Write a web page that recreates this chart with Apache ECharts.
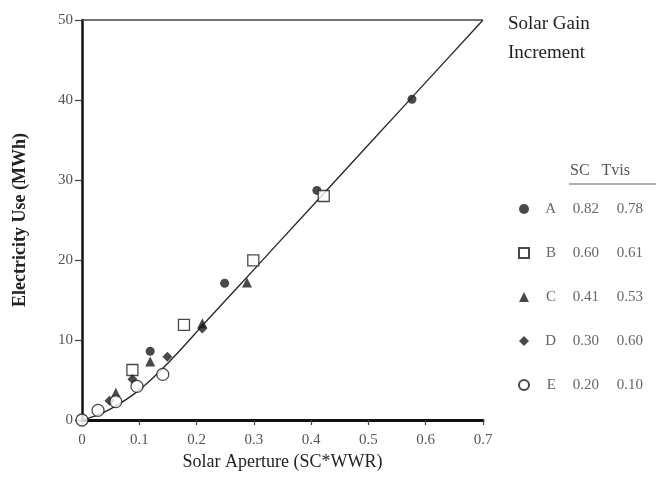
<!DOCTYPE html>
<html>
<head>
<meta charset="utf-8">
<script src="https://cdn.jsdelivr.net/npm/echarts@6/dist/echarts.min.js"></script>
<style>
  html, body { margin: 0; padding: 0; background: #fff; }
  #chart { width: 656px; height: 488px; }
</style>
</head>
<body>
<div id="chart"></div>
<script>
// ---- data ----
const categories = ['A', 'B', 'C', 'D', 'E'];
const scValues = ['0.82', '0.60', '0.41', '0.30', '0.20'];
const tvisValues = ['0.78', '0.61', '0.53', '0.60', '0.10'];

const seriesA = [[0.119, 8.6], [0.249, 17.1], [0.41, 28.7], [0.576, 40.1]];
const seriesB = [[0.088, 6.25], [0.178, 11.9], [0.299, 19.95], [0.422, 28.0]];
const seriesC = [[0.059, 3.4], [0.119, 7.3], [0.21, 12.1], [0.288, 17.2]];
const seriesD = [[0.048, 2.4], [0.088, 5.1], [0.149, 7.9], [0.21, 11.45]];
const seriesE = [[0, 0], [0.028, 1.2], [0.059, 2.3], [0.096, 4.2], [0.141, 5.7]];

const fitX = [0, 0.03, 0.06, 0.09, 0.12, 0.15, 0.18, 0.21, 0.25, 0.3, 0.4, 0.5, 0.6, 0.7];
const fitY = [0, 0.7, 1.8, 3.2, 5.0, 7.1, 9.4, 11.8, 14.9, 18.8, 26.6, 34.4, 42.2, 50.0];

const topLineX = [0, 0.7];
const topLineY = [50, 50];

const xTitle = 'Solar Aperture (SC*WWR)';
const yTitle = 'Electricity Use (MWh)';
const noteLines = ['Solar Gain', 'Increment'];
const legendHeader = 'SC   Tvis';

// ---- chart ----
const SERIF = '"Liberation Serif", "DejaVu Serif", serif';
const INK = '#1c1c1c';
const chart = echarts.init(document.getElementById('chart'), null, { renderer: 'canvas' });

const zip = (xs, ys) => xs.map((x, i) => [x, ys[i]]);
const filled = { color: INK };
const hollow = { color: '#ffffff', borderColor: INK, borderWidth: 1.3 };

const scatterDefs = [
  { data: seriesA, symbol: 'circle', size: 9, style: filled },
  { data: seriesB, symbol: 'rect', size: 11, style: hollow },
  { data: seriesC, symbol: 'triangle', size: 10, style: filled },
  { data: seriesD, symbol: 'diamond', size: 10, style: filled },
  { data: seriesE, symbol: 'circle', size: 12, style: hollow }
];

const series = [
  {
    type: 'line', name: 'fit', data: zip(fitX, fitY), smooth: 0.4,
    showSymbol: false, clip: false, silent: true,
    lineStyle: { color: '#2a2a2a', width: 1.4 }, z: 2
  },
  {
    type: 'line', name: 'top', data: zip(topLineX, topLineY),
    showSymbol: false, clip: false, silent: true,
    lineStyle: { color: '#444', width: 1.6 }, z: 2
  }
];
scatterDefs.forEach((d, i) => {
  series.push({
    type: 'scatter', name: categories[i], data: d.data,
    symbol: d.symbol, symbolSize: d.size, itemStyle: d.style,
    clip: false, z: 5
  });
});

const option = {
  animation: false,
  backgroundColor: '#fff',
  grid: { left: 82, right: 173, top: 20, bottom: 68 },
  xAxis: {
    type: 'value', min: 0, max: 0.7, interval: 0.1,
    name: xTitle, nameLocation: 'middle', nameGap: 21,
    nameTextStyle: { fontFamily: SERIF, fontSize: 18, color: '#222' },
    axisLine: { show: true, onZero: false, lineStyle: { color: '#111', width: 3 } },
    axisTick: { show: true, inside: false, length: 5, lineStyle: { color: '#444', width: 1.2 } },
    axisLabel: {
      fontFamily: SERIF, fontSize: 15, color: '#555', margin: 13,
      formatter: v => (v === 0 ? '0' : v.toFixed(1))
    },
    splitLine: { show: false }
  },
  yAxis: {
    type: 'value', min: 0, max: 50, interval: 10,
    name: yTitle, nameLocation: 'middle', nameGap: 53, nameRotate: 90,
    nameTextStyle: { fontFamily: SERIF, fontSize: 18, fontWeight: 'bold', color: '#222' },
    axisLine: { show: true, onZero: false, lineStyle: { color: '#111', width: 2.5 } },
    axisTick: { show: true, inside: false, length: 7, lineStyle: { color: '#444', width: 1.2 } },
    axisLabel: { fontFamily: SERIF, fontSize: 15, color: '#555', margin: 9 },
    splitLine: { show: false }
  },
  legend: {
    data: categories,
    orient: 'vertical', left: 513, top: 195,
    itemWidth: 10, itemHeight: 10, itemGap: 26,
    selectedMode: false,
    formatter: name => {
      const i = categories.indexOf(name);
      return '{n|' + name + '}{s|' + scValues[i] + '}{t|' + tvisValues[i] + '}';
    },
    textStyle: {
      fontFamily: SERIF, fontSize: 15, color: '#666', lineHeight: 18,
      rich: {
        n: { fontFamily: SERIF, fontSize: 15, color: '#666', width: 22, align: 'right', lineHeight: 18 },
        s: { fontFamily: SERIF, fontSize: 15, color: '#666', width: 43, align: 'right', lineHeight: 18 },
        t: { fontFamily: SERIF, fontSize: 15, color: '#666', width: 44, align: 'right', lineHeight: 18 }
      }
    }
  },
  graphic: [
    {
      type: 'text', left: 508, top: 10,
      style: {
        text: noteLines.join('\n'), font: '19px ' + SERIF,
        fill: '#222', lineHeight: 29
      }
    },
    {
      type: 'text', left: 570, top: 163,
      style: { text: legendHeader, font: '16px ' + SERIF, fill: '#555' }
    },
    {
      type: 'line', shape: { x1: 569, y1: 184, x2: 656, y2: 184 },
      style: { stroke: '#666', lineWidth: 1.2 }
    }
  ],
  series: series
};

chart.setOption(option);
</script>
</body>
</html>
